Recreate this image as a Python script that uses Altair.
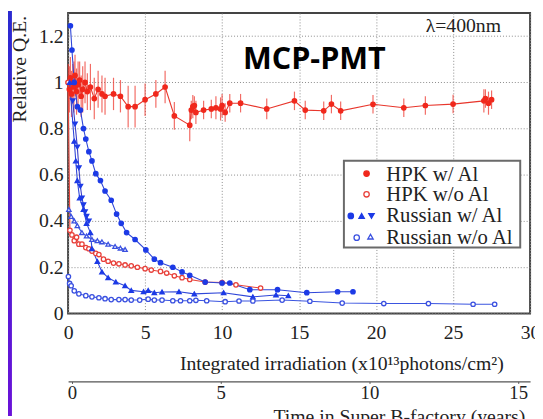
import altair as alt
import pandas as pd

# ---------------- data ----------------
hpk_al_x = [0.02, 0.08, 0.15, 0.22, 0.3, 0.38, 0.45, 0.55, 0.65, 0.75, 0.85, 0.95, 1.1, 1.25, 1.45, 1.7, 1.95, 2.2,
            2.4, 2.95, 3.4, 3.9, 4.35, 5.0, 5.7, 6.3, 6.9, 7.9, 8.0, 8.1, 8.2, 8.3, 8.8, 9.3, 9.6, 9.9, 10.0, 10.2,
            10.5, 11.2, 12.9, 14.7, 15.4, 16.6, 17.1, 17.7, 19.8, 21.8, 23.2, 25.0, 27.0, 27.1, 27.3, 27.5]
hpk_al_y = [1.0, 0.97, 1.02, 0.95, 1.0, 0.98, 1.03, 0.96, 0.99, 1.01, 0.94, 0.97, 1.0, 0.96, 0.98, 0.93, 0.97, 0.95,
            0.94, 0.95, 0.94, 0.895, 0.895, 0.925, 0.95, 0.98, 0.855, 0.815, 0.88, 0.895, 0.9, 0.87, 0.88, 0.885, 0.89,
            0.885, 0.9, 0.87, 0.91, 0.91, 0.885, 0.92, 0.88, 0.877, 0.906, 0.877, 0.905, 0.89, 0.90, 0.906, 0.92, 0.93,
            0.91, 0.925]
hpk_al_err = [0.08, 0.1, 0.09, 0.1, 0.08, 0.11, 0.09, 0.1, 0.1, 0.08, 0.09, 0.1, 0.09, 0.08, 0.1, 0.09, 0.08, 0.08,
              0.08, 0.07, 0.07, 0.09, 0.09, 0.07, 0.06, 0.07, 0.06, 0.07, 0.04, 0.05, 0.04, 0.05, 0.04, 0.04, 0.05,
              0.05, 0.05, 0.04, 0.04, 0.04, 0.045, 0.04, 0.04, 0.04, 0.04, 0.04, 0.04, 0.04, 0.04, 0.04, 0.05, 0.04,
              0.05, 0.04]

hpk_noal_x = [0.0, 0.12, 0.25, 0.4, 0.55, 0.7, 0.9, 1.15, 1.35, 1.55, 1.8, 2.0, 2.3, 2.6, 2.95, 3.3, 3.7, 4.1, 4.5,
              5.0, 5.4, 6.0, 6.4, 6.9, 7.4, 7.9, 8.9, 10.0, 10.9, 12.5]
hpk_noal_y = [1.0, 0.36, 0.34, 0.315, 0.33, 0.30, 0.30, 0.285, 0.28, 0.27, 0.26, 0.255, 0.235, 0.226, 0.218, 0.215,
              0.21, 0.206, 0.2, 0.194, 0.188, 0.182, 0.175, 0.163, 0.155, 0.147, 0.136, 0.134, 0.124, 0.11]

rus_al_c_x = [0.15, 0.25, 0.4, 0.6, 0.8, 1.0, 1.15, 1.35, 1.55, 1.8, 2.1, 2.4, 2.8, 3.15, 3.45, 3.8, 4.35, 5.05,
              5.6, 6.0, 6.8, 7.4, 7.9, 8.9, 10.0, 10.5, 11.8, 13.6, 15.5, 17.5, 18.5]
rus_al_c_y = [1.245, 1.14, 1.0, 0.895, 0.88, 0.80, 0.755, 0.70, 0.66, 0.605, 0.575, 0.53, 0.49, 0.43, 0.39, 0.35,
              0.32, 0.275, 0.235, 0.22, 0.2, 0.18, 0.165, 0.136, 0.132, 0.132, 0.103, 0.103, 0.09, 0.094, 0.094]

rus_al_up_x = [0.1, 0.4, 0.5, 0.6, 0.75, 1.0, 1.2, 1.45, 1.55, 1.9, 2.2, 2.6, 3.1, 3.7, 4.1, 4.9, 5.2, 5.6, 6.1,
               7.2, 8.2, 10.1, 12.0, 13.5, 14.3]
rus_al_up_y = [1.0, 0.745, 0.66, 0.575, 0.5, 0.45, 0.39, 0.35, 0.28, 0.225, 0.18, 0.155, 0.136, 0.12, 0.1, 0.094,
               0.1, 0.09, 0.093, 0.094, 0.085, 0.09, 0.072, 0.08, 0.077]

rus_al_dn_x = [0.3, 0.45, 0.6, 0.7, 0.8, 0.9, 1.0, 1.1, 1.2, 1.35]
rus_al_dn_y = [0.92, 0.82, 0.72, 0.63, 0.55, 0.5, 0.47, 0.44, 0.42, 0.40]

rus_noal_c_x = [0.02, 0.1, 0.2, 0.4, 0.7, 1.15, 1.55, 2.0, 2.4, 2.8, 3.3, 3.7, 4.1, 4.65, 5.2, 5.6, 6.1, 6.8, 7.3,
                7.9, 8.3, 9.0, 10.2, 11.1, 12.0, 13.9, 15.7, 17.8, 20.5, 23.4, 26.3, 27.7]
rus_noal_c_y = [0.16, 0.13, 0.12, 0.098, 0.085, 0.077, 0.072, 0.068, 0.064, 0.06, 0.06, 0.06, 0.058, 0.058, 0.062,
                0.058, 0.058, 0.055, 0.055, 0.055, 0.057, 0.055, 0.051, 0.054, 0.054, 0.058, 0.053, 0.045, 0.043,
                0.043, 0.04, 0.04]

rus_noal_t_x = [0.05, 0.2, 0.4, 0.6, 0.9, 1.2, 1.55, 1.9, 2.2, 2.6, 3.05, 3.4, 3.7]
rus_noal_t_y = [0.45, 0.42, 0.40, 0.38, 0.35, 0.335, 0.32, 0.315, 0.31, 0.30, 0.29, 0.283, 0.277]

series_names = ["HPK w/ Al", "HPK w/o Al", "Rus Al circle", "Rus Al up", "Rus Al down",
                "Rus noAl circle", "Rus noAl triangle"]
line_colors = ["#e8362c", "#e8443a", "#2f46d8", "#2f46d8", "#3a3fc8", "#3b55e0", "#3b55e0"]
stroke_colors = ["#f0281c", "#e8403a", "#1c3ae6", "#1c3ae6", "#1c3ae6", "#3a50e0", "#3a50e0"]
fill_colors = ["#f0281c", "#ffffff", "#1c3ae6", "#1c3ae6", "#1c3ae6", "#ffffff", "#ffffff"]
shapes = ["circle", "circle", "circle", "triangle-up", "triangle-down", "circle", "triangle-up"]

x_ticks = [0, 5, 10, 15, 20, 25, 30]
y_ticks = [0, 0.2, 0.4, 0.6, 0.8, 1.0, 1.2]
year_ticks = [0, 5, 10, 15]

# ---------------- tables ----------------
rows = []
for name, xs, ys in [
    ("HPK w/ Al", hpk_al_x, hpk_al_y),
    ("HPK w/o Al", hpk_noal_x, hpk_noal_y),
    ("Rus Al circle", rus_al_c_x, rus_al_c_y),
    ("Rus Al up", rus_al_up_x, rus_al_up_y),
    ("Rus Al down", rus_al_dn_x, rus_al_dn_y),
    ("Rus noAl circle", rus_noal_c_x, rus_noal_c_y),
    ("Rus noAl triangle", rus_noal_t_x, rus_noal_t_y),
]:
    for a, b in zip(xs, ys):
        rows.append({"series": name, "x": a, "y": b})
df = pd.DataFrame(rows)

err_df = pd.DataFrame({"x": hpk_al_x,
                       "lo": [v - e for v, e in zip(hpk_al_y, hpk_al_err)],
                       "hi": [v + e for v, e in zip(hpk_al_y, hpk_al_err)]})
year_df = pd.DataFrame({"yr": year_ticks})
one = pd.DataFrame({"a": [0]})

SERIF = "Liberation Serif"

X = alt.X("x:Q", scale=alt.Scale(domain=[0, 30], nice=False, zero=False),
          axis=alt.Axis(values=x_ticks, title="Integrated irradiation (x10¹³photons/cm²)",
                        titleAnchor="start", titleAlign="left", titleX=113, titleY=57,
                        titleBaseline="alphabetic", labelPadding=9, labelFlush=False,
                        grid=True, ticks=False, domain=False))
Y = alt.Y("y:Q", scale=alt.Scale(domain=[0, 1.3], nice=False, zero=False),
          axis=alt.Axis(values=y_ticks, format=".1~f", title=None, labelPadding=5, labelFlush=False,
                        grid=True, ticks=False, domain=False))

err = alt.Chart(err_df).mark_rule(color="#ee3a30", strokeWidth=1.2, opacity=0.75).encode(
    x=X, y=alt.Y("lo:Q"), y2="hi:Q")

lines = alt.Chart(df).mark_line(strokeWidth=1.1).encode(
    x=X, y=Y,
    color=alt.Color("series:N", scale=alt.Scale(domain=series_names, range=line_colors), legend=None),
    detail="series:N")

points = alt.Chart(df).mark_point(filled=True, size=20, strokeWidth=1.3, opacity=1).encode(
    x=X, y=Y,
    fill=alt.Fill("series:N", scale=alt.Scale(domain=series_names, range=fill_colors), legend=None),
    stroke=alt.Stroke("series:N", scale=alt.Scale(domain=series_names, range=stroke_colors), legend=None),
    shape=alt.Shape("series:N", scale=alt.Scale(domain=series_names, range=shapes), legend=None))

# ---------------- decorations ----------------
base = alt.Chart(one)
legend_box = base.mark_rect(fill="white", stroke="#6a6a6a", strokeWidth=2).encode(
    x=alt.value(280), x2=alt.value(459), y=alt.value(150), y2=alt.value(238))

def sym(xp, yp, shape, fill, stroke):
    return base.mark_point(shape=shape, size=30, filled=True, fill=fill, stroke=stroke,
                           strokeWidth=1.3, opacity=1).encode(x=alt.value(xp), y=alt.value(yp))

def txt(s, xp, yp, size=21, **kw):
    return base.mark_text(align="left", baseline="middle", font=SERIF, fontSize=size,
                          color="#222", **kw).encode(x=alt.value(xp), y=alt.value(yp), text=alt.value(s))

legend_syms = [
    sym(303, 163, "circle", "#f0281c", "#f0281c"),
    sym(303, 184, "circle", "white", "#e8403a"),
    sym(287, 206, "circle", "#1c3ae6", "#1c3ae6"),
    sym(298, 206, "triangle-up", "#1c3ae6", "#1c3ae6"),
    sym(308, 206, "triangle-down", "#1c3ae6", "#1c3ae6"),
    sym(293, 228, "circle", "white", "#3a50e0"),
    sym(307, 227, "triangle-up", "white", "#3a50e0"),
]
legend_txt = [
    txt("HPK w/ Al", 323, 164),
    txt("HPK w/o Al", 323, 185),
    txt("Russian w/ Al", 323, 206),
    txt("Russian w/o Al", 323, 228),
]

mcp = base.mark_text(align="center", baseline="middle", font="Open Sans", fontWeight="bold",
                     fontSize=31, color="black").encode(
    x=alt.value(250), y=alt.value(48), text=alt.value("MCP-PMT"))
lam = txt("λ=400nm", 363, 13, size=20)
ytitle = base.mark_text(align="center", baseline="middle", font=SERIF, fontSize=20, angle=270,
                        color="#222").encode(x=alt.value(-49), y=alt.value(57),
                                             text=alt.value("Relative Q.E."))
strip = base.mark_rect(fill=alt.Gradient(gradient="linear", x1=0, y1=0, x2=0, y2=1,
                                         stops=[alt.GradientStop(color="#2b2bd0", offset=0),
                                                alt.GradientStop(color="#6a12d8", offset=1)])).encode(
    x=alt.value(-61), x2=alt.value(-57), y=alt.value(-2), y2=alt.value(409))

main = alt.layer(err, lines, points, legend_box, *legend_syms, *legend_txt, mcp, lam, ytitle, strip)

year = alt.Chart(year_df).mark_point(opacity=0).encode(
    x=alt.X("yr:Q", scale=alt.Scale(domain=[-0.13, 15.4], nice=False, zero=False),
            axis=alt.Axis(orient="bottom", offset=69, values=year_ticks, grid=False,
                          title="Time in Super B-factory (years)", titleAnchor="start",
                          titleAlign="left", titleX=208, titleY=42, titleBaseline="alphabetic",
                          domain=True, domainColor="#555", domainWidth=1.2, ticks=True, tickSize=2,
                          tickColor="#555", labelPadding=0, labelFontSize=19, labelFlush=False)),
    y=alt.value(0))

chart = alt.layer(main, year).resolve_scale(x="independent").properties(
    width=469, height=305, autosize="none",
    padding={"left": 61, "top": 2, "right": 5, "bottom": 104},
    background="white",
).configure_view(stroke="#444", strokeWidth=2).configure_axis(
    labelFont=SERIF, labelFontSize=20, labelColor="#222",
    titleFont=SERIF, titleFontSize=20, titleColor="#222", titleFontWeight="normal",
    gridColor="#8a8a8a", gridDash=[1, 2], gridWidth=1, gridOpacity=1,
)

chart.save("out.html", embed_options={"renderer": "svg", "actions": False})
